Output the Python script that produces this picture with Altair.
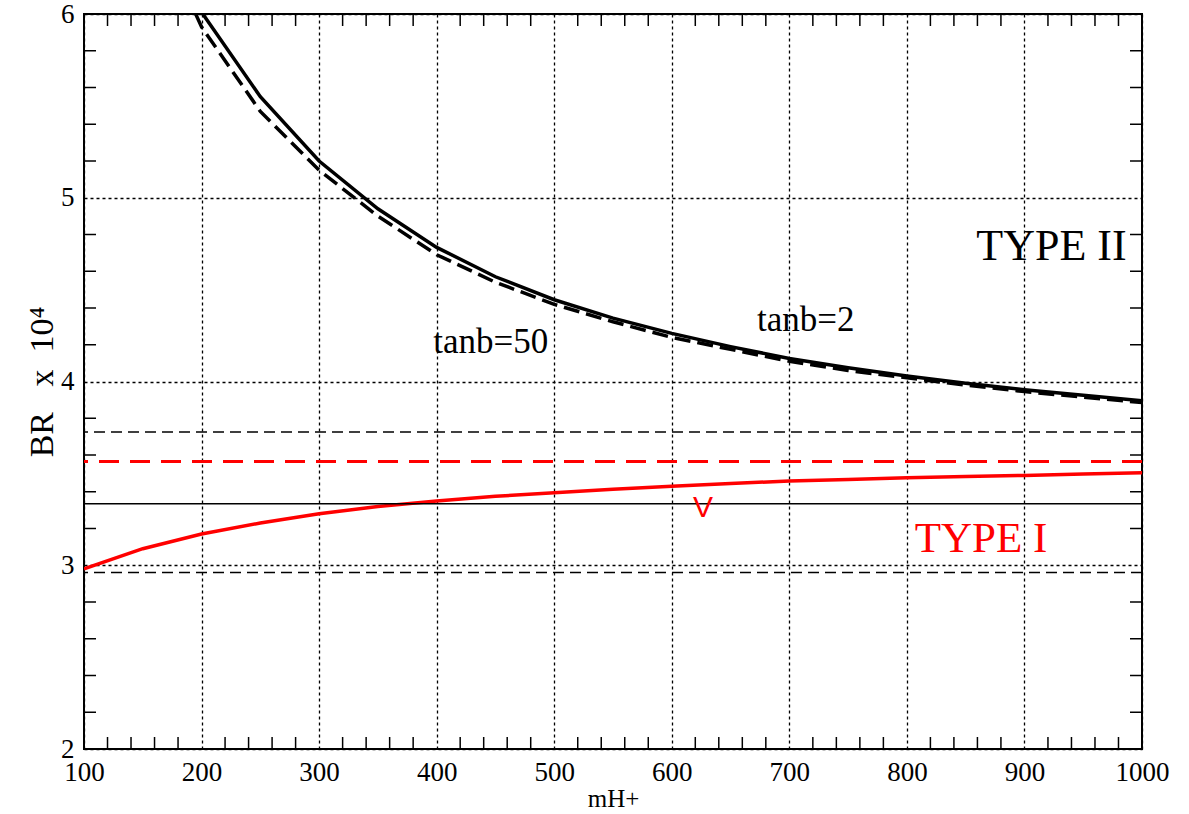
import altair as alt
import pandas as pd

# ---- data ----
mh = [100, 150, 200, 250, 300, 350, 400, 450, 500, 550, 600, 650, 700, 750, 800, 850, 900, 950, 1000]
type1_br = [2.98, 3.09, 3.17, 3.23, 3.28, 3.32, 3.35, 3.375, 3.395, 3.413, 3.43, 3.445, 3.458, 3.467, 3.476, 3.483, 3.489, 3.496, 3.503]

tanb2_mh = [200, 250, 300, 350, 400, 450, 500, 550, 600, 650, 700, 750, 800, 850, 900, 950, 1000]
tanb2_br = [6.01, 5.55, 5.20, 4.94, 4.73, 4.57, 4.445, 4.345, 4.262, 4.19, 4.125, 4.075, 4.03, 3.99, 3.955, 3.925, 3.895]

tanb50_mh = [195, 200, 250, 300, 350, 400, 450, 500, 550, 600, 650, 700, 750, 800, 850, 900, 950, 1000]
tanb50_br = [6.0, 5.93, 5.47, 5.15, 4.90, 4.69, 4.54, 4.42, 4.325, 4.24, 4.175, 4.11, 4.06, 4.02, 3.98, 3.945, 3.915, 3.885]

hline_black_dashed = [3.725, 2.96]
hline_red_dashed = [3.565]
hline_black_solid = [3.335]

x_major = [100, 200, 300, 400, 500, 600, 700, 800, 900, 1000]
x_minor = [v for v in range(100, 1001, 20) if v % 100 != 0]
y_major = [2, 3, 4, 5, 6]
y_minor = [round(2 + 0.2 * i, 1) for i in range(21) if i % 5 != 0]

label_text = ["TYPE II", "TYPE I", "tanb=50", "tanb=2", "V"]
label_x = [923, 863, 446, 714, 626.6]
label_y = [4.661, 3.074, 4.157, 4.273, 3.264]

NB = "\u00a0"
y_title = "BR" + NB * 3 + "x" + NB * 2 + "10⁴"

W, H = 1058, 735
SERIF = "Liberation Serif"

xs = alt.Scale(domain=[100, 1000], nice=False, zero=False)
ys = alt.Scale(domain=[2, 6], nice=False, zero=False)

x_axis = alt.Axis(
    values=x_major, format="d", grid=True, gridDash=[3, 3], gridColor="black",
    gridWidth=1.3, gridOpacity=1, domain=False, ticks=False,
    labelFont=SERIF, labelFontSize=27, labelColor="black", labelPadding=10,
    labelFlush=False, labelOverlap=False,
    title="mH+", titleFont=SERIF, titleFontSize=25, titleFontWeight="normal",
    titleColor="black", titlePadding=1,
)
y_axis = alt.Axis(
    values=y_major, format="d", grid=True, gridDash=[3, 3], gridColor="black",
    gridWidth=1.3, gridOpacity=1, domain=False, ticks=False,
    labelFont=SERIF, labelFontSize=27, labelColor="black", labelPadding=10,
    labelFlush=False, labelOverlap=False,
    title=y_title, titleFont=SERIF, titleFontSize=34, titleFontWeight="normal",
    titleColor="black", titlePadding=1,
)

X = alt.X("x:Q", scale=xs, axis=x_axis)
Y = alt.Y("y:Q", scale=ys, axis=y_axis)

df_t1 = pd.DataFrame({"x": mh, "y": type1_br})
df_t2 = pd.DataFrame({"x": tanb2_mh, "y": tanb2_br})
df_t50 = pd.DataFrame({"x": tanb50_mh, "y": tanb50_br})

red_curve = alt.Chart(df_t1).mark_line(color="#ff0000", strokeWidth=3.5, clip=True).encode(x=X, y=Y)
solid_curve = alt.Chart(df_t2).mark_line(color="black", strokeWidth=3.5, clip=True).encode(x=X, y=Y)
dashed_curve = alt.Chart(df_t50).mark_line(color="black", strokeWidth=3.5, strokeDash=[16, 7], clip=True).encode(x=X, y=Y)

def hrule(values, **style):
    return alt.Chart(pd.DataFrame({"y": values})).mark_rule(**style).encode(y=Y)

h_black_dashed = hrule(hline_black_dashed, color="black", strokeWidth=1.5, strokeDash=[11, 6])
h_red_dashed = hrule(hline_red_dashed, color="#ff0000", strokeWidth=3, strokeDash=[20, 11])
h_black_solid = hrule(hline_black_solid, color="black", strokeWidth=1.5)

dfx = pd.DataFrame({"x": x_minor})
dfy = pd.DataFrame({"y": y_minor})
tick_style = dict(color="black", strokeWidth=1.5)
ticks_bottom = alt.Chart(dfx).mark_rule(**tick_style).encode(x=X, y=alt.value(H), y2=alt.value(H - 12))
ticks_top = alt.Chart(dfx).mark_rule(**tick_style).encode(x=X, y=alt.value(0), y2=alt.value(12))
ticks_left = alt.Chart(dfy).mark_rule(**tick_style).encode(y=Y, x=alt.value(0), x2=alt.value(12))
ticks_right = alt.Chart(dfy).mark_rule(**tick_style).encode(y=Y, x=alt.value(W), x2=alt.value(W - 12))

def label(i, color, font, size):
    d = pd.DataFrame({"x": [label_x[i]], "y": [label_y[i]], "t": [label_text[i]]})
    return alt.Chart(d).mark_text(
        color=color, font=font, fontSize=size, align="center", baseline="alphabetic"
    ).encode(x=X, y=Y, text="t:N")

labels = [
    label(0, "black", SERIF, 44),
    label(1, "#ff0000", SERIF, 43),
    label(2, "black", SERIF, 35),
    label(3, "black", SERIF, 35),
    label(4, "#ff0000", "Liberation Sans", 30),
]

chart = alt.layer(
    red_curve, h_black_dashed, h_red_dashed, h_black_solid,
    solid_curve, dashed_curve,
    ticks_bottom, ticks_top, ticks_left, ticks_right,
    *labels,
).properties(
    width=W, height=H,
    padding={"left": 84, "top": 14, "right": 47, "bottom": 65},
    autosize=alt.AutoSizeParams(type="none"),
    background="white",
).configure_view(stroke="black", strokeWidth=2)

chart.save("out.html", embed_options={"renderer": "svg", "actions": False})
